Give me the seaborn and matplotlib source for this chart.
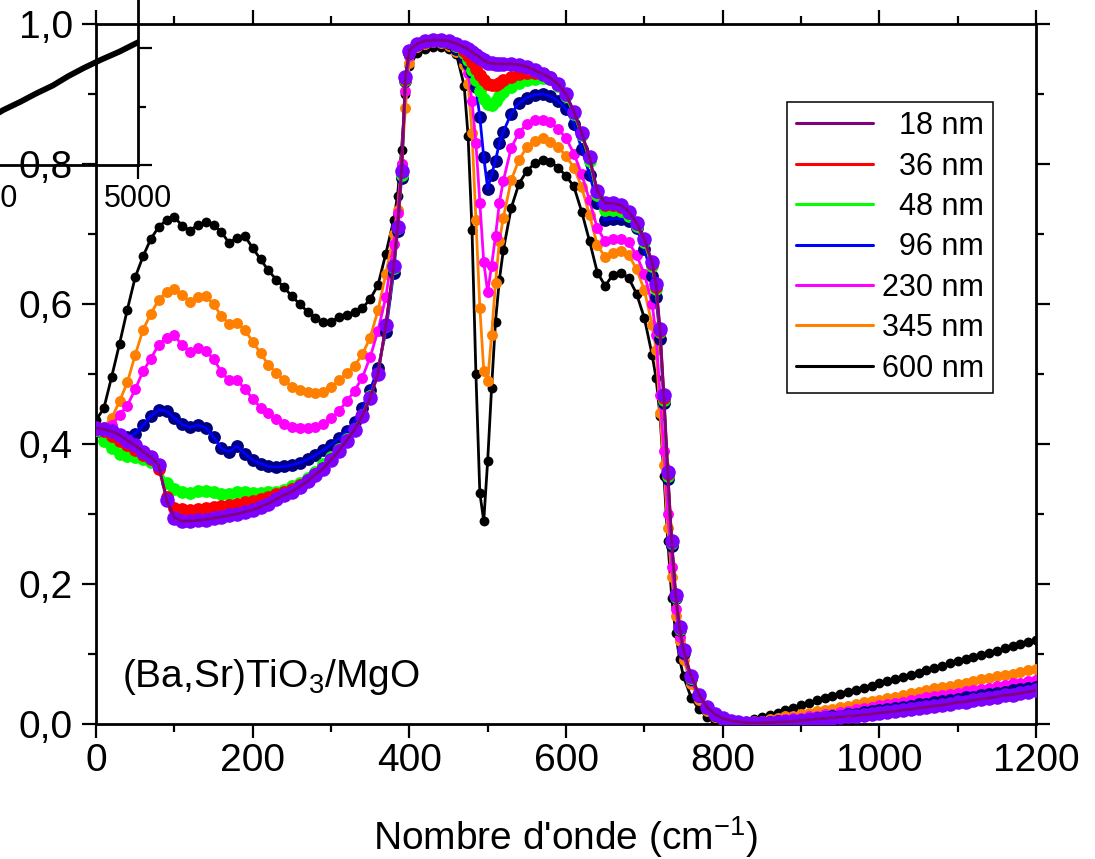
import numpy as np
import pandas as pd
import matplotlib
matplotlib.use("Agg")
import matplotlib.pyplot as plt
from matplotlib.lines import Line2D
from matplotlib.ticker import MultipleLocator, FuncFormatter
import seaborn as sns

sns.set_style("ticks")
plt.rcParams['font.family'] = ['Liberation Sans', 'DejaVu Sans']
plt.rcParams['mathtext.fontset'] = 'custom'
plt.rcParams['mathtext.rm'] = 'Liberation Sans'
plt.rcParams['mathtext.it'] = 'Liberation Sans:italic'
plt.rcParams['mathtext.bf'] = 'Liberation Sans:bold'
plt.rcParams['mathtext.default'] = 'regular'
for key in ['text.color', 'axes.labelcolor', 'xtick.color', 'ytick.color', 'axes.edgecolor']:
    plt.rcParams[key] = 'black'

# ---------------- data ----------------
wavenumber = [0, 10, 20, 30, 40, 50, 60, 70, 80, 90,
              100, 110, 120, 130, 140, 150, 160, 170, 180, 190,
              200, 210, 220, 230, 240, 250, 260, 270, 280, 290,
              300, 310, 320, 330, 340, 350, 360, 370, 380, 385,
              390, 395, 400, 410, 420, 430, 440, 450, 460, 470,
              475, 480, 485, 490, 495, 500, 505, 510, 515, 520,
              530, 540, 550, 560, 570, 580, 590, 600, 610, 620,
              630, 640, 650, 660, 670, 680, 690, 700, 710, 715,
              720, 725, 730, 735, 740, 745, 750, 760, 770, 780,
              790, 800, 810, 820, 830, 840, 850, 860, 870, 880,
              890, 900, 910, 920, 930, 940, 950, 960, 970, 980,
              990, 1000, 1010, 1020, 1030, 1040, 1050, 1060, 1070, 1080,
              1090, 1100, 1110, 1120, 1130, 1140, 1150, 1160, 1170, 1180,
              1190, 1200]

r_18nm = [0.423, 0.421, 0.418, 0.413, 0.405, 0.398, 0.389, 0.381, 0.370, 0.320,
          0.295, 0.290, 0.290, 0.291, 0.292, 0.294, 0.296, 0.298, 0.300, 0.303,
          0.306, 0.310, 0.315, 0.321, 0.327, 0.332, 0.339, 0.347, 0.356, 0.365,
          0.377, 0.390, 0.405, 0.420, 0.440, 0.466, 0.500, 0.570, 0.655, 0.710,
          0.790, 0.925, 0.962, 0.972, 0.976, 0.977, 0.977, 0.976, 0.972, 0.967,
          0.964, 0.960, 0.956, 0.952, 0.948, 0.945, 0.944, 0.943, 0.943, 0.943,
          0.943, 0.942, 0.939, 0.934, 0.929, 0.923, 0.914, 0.900, 0.875, 0.845,
          0.810, 0.762, 0.744, 0.744, 0.741, 0.732, 0.716, 0.693, 0.660, 0.628,
          0.565, 0.470, 0.360, 0.262, 0.185, 0.138, 0.106, 0.068, 0.042, 0.024,
          0.014, 0.008, 0.005, 0.003, 0.002, 0.001, 0.002, 0.002, 0.003, 0.003,
          0.004, 0.005, 0.006, 0.007, 0.008, 0.009, 0.010, 0.011, 0.012, 0.013,
          0.014, 0.016, 0.017, 0.018, 0.020, 0.021, 0.023, 0.024, 0.026, 0.027,
          0.029, 0.031, 0.032, 0.034, 0.036, 0.037, 0.039, 0.041, 0.042, 0.044,
          0.046, 0.048]

r_36nm = [0.422, 0.418, 0.412, 0.405, 0.398, 0.392, 0.385, 0.378, 0.365, 0.325,
          0.309, 0.307, 0.306, 0.307, 0.309, 0.310, 0.312, 0.313, 0.315, 0.317,
          0.319, 0.322, 0.325, 0.328, 0.332, 0.336, 0.342, 0.349, 0.357, 0.366,
          0.378, 0.391, 0.406, 0.421, 0.441, 0.467, 0.500, 0.570, 0.655, 0.710,
          0.788, 0.922, 0.960, 0.972, 0.976, 0.977, 0.977, 0.975, 0.970, 0.962,
          0.955, 0.946, 0.936, 0.927, 0.920, 0.915, 0.913, 0.913, 0.916, 0.920,
          0.925, 0.928, 0.930, 0.930, 0.929, 0.924, 0.915, 0.900, 0.875, 0.844,
          0.808, 0.760, 0.742, 0.741, 0.739, 0.730, 0.714, 0.691, 0.657, 0.625,
          0.562, 0.466, 0.357, 0.260, 0.183, 0.137, 0.105, 0.067, 0.041, 0.024,
          0.014, 0.008, 0.005, 0.003, 0.002, 0.001, 0.002, 0.002, 0.003, 0.003,
          0.004, 0.005, 0.006, 0.007, 0.008, 0.009, 0.010, 0.011, 0.012, 0.013,
          0.014, 0.016, 0.017, 0.018, 0.020, 0.021, 0.023, 0.024, 0.026, 0.027,
          0.029, 0.031, 0.032, 0.034, 0.036, 0.037, 0.039, 0.041, 0.042, 0.044,
          0.046, 0.048]

r_48nm = [0.420, 0.405, 0.395, 0.386, 0.383, 0.381, 0.378, 0.374, 0.366, 0.345,
          0.336, 0.331, 0.330, 0.333, 0.333, 0.331, 0.329, 0.328, 0.331, 0.331,
          0.330, 0.330, 0.331, 0.332, 0.335, 0.340, 0.345, 0.352, 0.360, 0.371,
          0.382, 0.393, 0.407, 0.422, 0.442, 0.468, 0.500, 0.568, 0.652, 0.708,
          0.785, 0.920, 0.960, 0.972, 0.976, 0.977, 0.976, 0.974, 0.968, 0.958,
          0.948, 0.935, 0.920, 0.905, 0.893, 0.886, 0.884, 0.890, 0.897, 0.903,
          0.910, 0.916, 0.920, 0.922, 0.923, 0.921, 0.912, 0.897, 0.872, 0.842,
          0.805, 0.756, 0.734, 0.734, 0.733, 0.726, 0.711, 0.688, 0.654, 0.622,
          0.560, 0.463, 0.355, 0.258, 0.182, 0.136, 0.104, 0.066, 0.041, 0.023,
          0.014, 0.008, 0.005, 0.003, 0.002, 0.001, 0.002, 0.002, 0.003, 0.003,
          0.004, 0.005, 0.006, 0.007, 0.008, 0.009, 0.010, 0.011, 0.012, 0.013,
          0.014, 0.016, 0.017, 0.018, 0.020, 0.021, 0.023, 0.024, 0.026, 0.027,
          0.029, 0.031, 0.032, 0.034, 0.036, 0.037, 0.039, 0.041, 0.042, 0.044,
          0.046, 0.048]

r_96nm = [0.420, 0.413, 0.410, 0.409, 0.410, 0.415, 0.427, 0.440, 0.449, 0.447,
          0.437, 0.428, 0.424, 0.427, 0.423, 0.410, 0.394, 0.389, 0.397, 0.386,
          0.377, 0.372, 0.368, 0.367, 0.368, 0.370, 0.373, 0.378, 0.384, 0.391,
          0.399, 0.408, 0.419, 0.432, 0.452, 0.477, 0.508, 0.560, 0.645, 0.705,
          0.780, 0.918, 0.958, 0.972, 0.976, 0.977, 0.976, 0.973, 0.965, 0.952,
          0.943, 0.932, 0.910, 0.867, 0.810, 0.765, 0.785, 0.805, 0.830, 0.846,
          0.872, 0.887, 0.895, 0.899, 0.900, 0.897, 0.890, 0.878, 0.857, 0.822,
          0.785, 0.745, 0.720, 0.722, 0.722, 0.719, 0.709, 0.678, 0.640, 0.610,
          0.550, 0.458, 0.350, 0.255, 0.180, 0.134, 0.102, 0.064, 0.040, 0.023,
          0.013, 0.007, 0.004, 0.003, 0.002, 0.002, 0.002, 0.003, 0.004, 0.005,
          0.005, 0.006, 0.007, 0.009, 0.010, 0.011, 0.012, 0.014, 0.015, 0.017,
          0.018, 0.020, 0.021, 0.023, 0.024, 0.026, 0.028, 0.029, 0.031, 0.033,
          0.034, 0.036, 0.038, 0.039, 0.041, 0.043, 0.045, 0.046, 0.048, 0.050,
          0.051, 0.053]

r_230nm = [0.420, 0.422, 0.427, 0.442, 0.455, 0.478, 0.504, 0.522, 0.542, 0.552,
           0.555, 0.541, 0.532, 0.537, 0.533, 0.522, 0.503, 0.491, 0.492, 0.478,
           0.465, 0.452, 0.444, 0.436, 0.428, 0.424, 0.423, 0.423, 0.425, 0.429,
           0.437, 0.447, 0.461, 0.476, 0.495, 0.524, 0.562, 0.610, 0.685, 0.730,
           0.800, 0.905, 0.955, 0.970, 0.975, 0.976, 0.975, 0.972, 0.965, 0.953,
           0.930, 0.890, 0.830, 0.745, 0.660, 0.617, 0.655, 0.697, 0.745, 0.776,
           0.823, 0.845, 0.857, 0.863, 0.863, 0.860, 0.850, 0.837, 0.815, 0.786,
           0.748, 0.708, 0.690, 0.693, 0.693, 0.688, 0.670, 0.643, 0.600, 0.555,
           0.470, 0.390, 0.300, 0.225, 0.165, 0.125, 0.098, 0.062, 0.038, 0.022,
           0.012, 0.006, 0.003, 0.002, 0.002, 0.003, 0.004, 0.005, 0.006, 0.007,
           0.008, 0.009, 0.011, 0.012, 0.014, 0.015, 0.017, 0.019, 0.021, 0.023,
           0.025, 0.027, 0.029, 0.030, 0.032, 0.034, 0.036, 0.038, 0.040, 0.041,
           0.043, 0.045, 0.047, 0.049, 0.050, 0.052, 0.054, 0.056, 0.058, 0.059,
           0.061, 0.063]

r_345nm = [0.420, 0.425, 0.437, 0.461, 0.488, 0.527, 0.563, 0.586, 0.606, 0.617,
           0.622, 0.613, 0.603, 0.610, 0.611, 0.600, 0.583, 0.572, 0.573, 0.563,
           0.546, 0.530, 0.513, 0.502, 0.491, 0.482, 0.477, 0.474, 0.473, 0.475,
           0.481, 0.491, 0.501, 0.512, 0.528, 0.552, 0.591, 0.643, 0.700, 0.735,
           0.800, 0.880, 0.945, 0.967, 0.972, 0.974, 0.973, 0.969, 0.960, 0.942,
           0.915, 0.845, 0.720, 0.595, 0.505, 0.490, 0.555, 0.630, 0.690, 0.723,
           0.777, 0.806, 0.824, 0.833, 0.837, 0.832, 0.825, 0.811, 0.795, 0.767,
           0.727, 0.684, 0.667, 0.673, 0.676, 0.670, 0.650, 0.620, 0.570, 0.535,
           0.445, 0.370, 0.280, 0.210, 0.155, 0.118, 0.092, 0.057, 0.034, 0.019,
           0.010, 0.005, 0.003, 0.002, 0.003, 0.004, 0.005, 0.007, 0.009, 0.011,
           0.012, 0.014, 0.016, 0.018, 0.020, 0.022, 0.024, 0.026, 0.028, 0.031,
           0.033, 0.035, 0.037, 0.039, 0.042, 0.044, 0.046, 0.048, 0.051, 0.053,
           0.055, 0.057, 0.059, 0.061, 0.064, 0.066, 0.068, 0.070, 0.072, 0.075,
           0.077, 0.079]

r_600nm = [0.434, 0.451, 0.496, 0.543, 0.592, 0.638, 0.668, 0.693, 0.710, 0.720,
           0.724, 0.712, 0.705, 0.713, 0.717, 0.713, 0.703, 0.687, 0.695, 0.697,
           0.680, 0.664, 0.648, 0.635, 0.624, 0.611, 0.600, 0.589, 0.580, 0.574,
           0.575, 0.581, 0.585, 0.588, 0.594, 0.607, 0.627, 0.672, 0.720, 0.755,
           0.820, 0.900, 0.940, 0.958, 0.964, 0.967, 0.967, 0.964, 0.957, 0.912,
           0.840, 0.706, 0.500, 0.330, 0.290, 0.376, 0.480, 0.575, 0.635, 0.677,
           0.737, 0.772, 0.790, 0.801, 0.806, 0.803, 0.795, 0.783, 0.768, 0.732,
           0.690, 0.645, 0.626, 0.642, 0.645, 0.637, 0.615, 0.580, 0.527, 0.494,
           0.440, 0.355, 0.262, 0.180, 0.130, 0.093, 0.068, 0.037, 0.021, 0.010,
           0.005, 0.003, 0.002, 0.002, 0.004, 0.007, 0.010, 0.013, 0.016, 0.020,
           0.023, 0.027, 0.030, 0.034, 0.037, 0.040, 0.043, 0.046, 0.049, 0.052,
           0.055, 0.058, 0.061, 0.064, 0.067, 0.070, 0.073, 0.077, 0.080, 0.083,
           0.087, 0.090, 0.093, 0.096, 0.099, 0.102, 0.105, 0.108, 0.111, 0.114,
           0.117, 0.120]

thickness_labels = ["  18 nm", "  36 nm", "  48 nm", "  96 nm", "230 nm", "345 nm", "600 nm"]
line_colors = ["#800080", "#FF0000", "#00FF00", "#0000FF", "#FF00FF", "#FF8000", "#000000"]
dot_colors = ["#8000FF", "#FF0000", "#00FF00", "#000080", "#FF00FF", "#FF8000", "#000000"]
series_values = [r_18nm, r_36nm, r_48nm, r_96nm, r_230nm, r_345nm, r_600nm]
dot_sizes = [110, 85, 85, 85, 62, 62, 50]

# inset (high wavenumber part, only the visible piece)
inset_wavenumber = [4080, 4130, 4240, 4340, 4450, 4550, 4650, 4760, 4880, 5000]
inset_reflect = [0.843, 0.847, 0.854, 0.861, 0.868, 0.876, 0.883, 0.890, 0.897, 0.905]

# ---------------- figure ----------------
W, H = 1095, 859
fig = plt.figure(figsize=(W / 100, H / 100), dpi=100)
ax = fig.add_axes([96 / W, (H - 724) / H, 940 / W, 700 / H])

for i in range(len(series_values) - 1, -1, -1):
    df = pd.DataFrame({"x": wavenumber, "y": series_values[i]})
    z = 2 + (len(series_values) - 1 - i)
    sns.scatterplot(data=df, x="x", y="y", ax=ax, color=dot_colors[i],
                    s=dot_sizes[i], linewidth=0, zorder=z)
    sns.lineplot(data=df, x="x", y="y", ax=ax, color=line_colors[i],
                 lw=2.0, zorder=z + 0.5, errorbar=None)

ax.set_xlim(0, 1200)
ax.set_ylim(0, 1.0)
ax.set_xlabel("")
ax.set_ylabel("")
ax.xaxis.set_major_locator(MultipleLocator(200))
ax.xaxis.set_minor_locator(MultipleLocator(100))
ax.yaxis.set_major_locator(MultipleLocator(0.2))
ax.yaxis.set_minor_locator(MultipleLocator(0.1))
ax.yaxis.set_major_formatter(FuncFormatter(lambda v, p: f"{v:.1f}".replace(".", ",")))
ax.xaxis.set_major_formatter(FuncFormatter(lambda v, p: f"{v:.0f}"))
ax.tick_params(which="both", direction="out", top=True, right=True,
               labeltop=False, labelright=False, width=1.6, colors="black")
ax.tick_params(which="major", length=10, labelsize=28)
ax.tick_params(which="minor", length=5.5)
ax.tick_params(axis="x", which="major", pad=3.5)
ax.tick_params(axis="y", which="major", pad=6.5)
for sp in ax.spines.values():
    sp.set_visible(True)
    sp.set_linewidth(2.0)
    sp.set_color("black")

ax.text(33, 0.053, r"(Ba,Sr)TiO$_3$/MgO", fontsize=28, va="baseline", ha="left",
        color="black")

fig.text(566 / W, (H - 850) / H, r"Nombre d'onde (cm$^{-1}$)", fontsize=28,
         ha="center", va="baseline", color="black")

handles = [Line2D([0], [0], color=c, lw=2.2) for c in line_colors]
leg = ax.legend(handles, thickness_labels, loc="upper right",
                bbox_to_anchor=((993 - 96) / 940, (724 - 102) / 700),
                borderaxespad=0, fontsize=22, frameon=True, fancybox=False,
                framealpha=1, edgecolor="black", handlelength=2.5,
                handletextpad=0.3, borderpad=0.3, labelspacing=0.34,
                labelcolor="black")
leg.get_frame().set_linewidth(1.1)
leg.set_zorder(20)

# inset axes, partly outside the figure
left_px, right_px, bottom_px, top_px = -637, 138, 165, -57
axin = fig.add_axes([left_px / W, (H - bottom_px) / H,
                     (right_px - left_px) / W, (bottom_px - top_px) / H])
axin.patch.set_alpha(0)
sns.lineplot(x=inset_wavenumber, y=inset_reflect, ax=axin, color="black", lw=4.2,
             errorbar=None)
axin.set_xlim(0, 5000)
axin.set_ylim(0.8, 0.99)
axin.xaxis.set_major_locator(MultipleLocator(1000))
axin.yaxis.set_major_locator(MultipleLocator(0.1))
axin.yaxis.set_minor_locator(MultipleLocator(0.05))
axin.xaxis.set_major_formatter(FuncFormatter(lambda v, p: f"{v:.0f}"))
axin.tick_params(which="both", direction="out", left=False, labelleft=False,
                 right=True, top=False, labelright=False, width=1.6, colors="black")
axin.tick_params(which="major", length=10, labelsize=22, pad=4)
axin.tick_params(which="minor", length=5.5)
for sp in axin.spines.values():
    sp.set_linewidth(2.0)
    sp.set_color("black")

fig.savefig("out.png", dpi=100)
